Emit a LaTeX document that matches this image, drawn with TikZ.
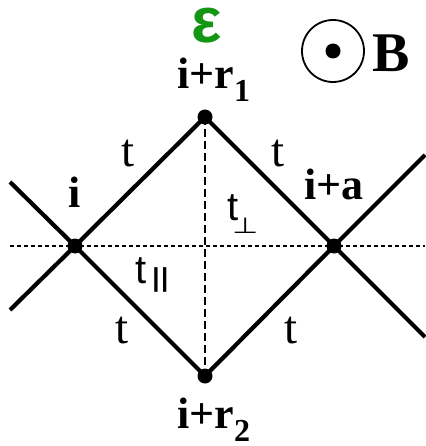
\documentclass[tikz,border=0pt]{standalone}
\usepackage{fontspec}
\setmainfont{Liberation Serif}
\newfontfamily\lsans{Liberation Sans}
\newfontfamily\dsans{DejaVu Sans}
\definecolor{epsgreen}{RGB}{20,150,20}
\begin{document}
\begin{tikzpicture}[x=1pt,y=-1pt,
  site/.style={circle,fill=black,inner sep=0pt,minimum size=15pt},
  bond/.style={line width=4.2pt},
  axisline/.style={line width=1.5pt,dash pattern=on 4pt off 3pt},
  perpline/.style={line width=2.2pt,dash pattern=on 8pt off 4pt},
  sitelbl/.style={font=\fontsize{44}{44}\selectfont\bfseries,inner sep=0pt},
  hop/.style={font=\fontsize{47}{47}\selectfont,anchor=base,inner sep=0pt},
  hopsf/.style={font=\fontsize{40}{40}\selectfont\lsans,anchor=base west,inner sep=0pt}]
\useasboundingbox (0,0) rectangle (425,446);
% sites
\node[site] (i)  at (75,246)  {};
\node[site] (r1) at (205,117) {};
\node[site] (a)  at (334,246) {};
\node[site] (r2) at (205,376) {};
% free ends
\coordinate (ul) at (10,182);
\coordinate (ll) at (10,310);
\coordinate (ur) at (425,155);
\coordinate (lr) at (425,337);
\coordinate (hl) at (10,246);
\coordinate (hr) at (425,246);
% guide lines
\draw[axisline] (hl) -- (hr);
\draw[perpline] (r1.center) -- (r2.center);
% bonds
\draw[bond] (ul) -- (i.center) -- (r2.center) -- (a.center) -- (ur);
\draw[bond] (ll) -- (i.center) -- (r1.center) -- (a.center) -- (lr);
% site labels
\node[sitelbl,anchor=base]      (li)  at (75,207)  {i};
\node[sitelbl,anchor=base west] (lr1) at (177,89)  {i+r\raisebox{-13pt}{\fontsize{32}{32}\selectfont 1}};
\node[sitelbl,anchor=base west] (la)  at (304,200) {i+a};
\node[sitelbl,anchor=base west] (lr2) at (177,428) {i+r\raisebox{-13pt}{\fontsize{32}{32}\selectfont 2}};
% hopping labels
\node[hop] (t1) at (128,167) {t};
\node[hop] (t2) at (278,167) {t};
\node[hop] (t3) at (122,343) {t};
\node[hop] (t4) at (291,343) {t};
\node[hopsf] (tperp) at (227,220) {t\hspace{-6pt}\raisebox{-13pt}{\fontsize{22}{22}\selectfont\scalebox{1.35}[1]{\dsans ⊥}}};
\node[hopsf] (tpar) at (135,283) {t\hspace{6pt}\raisebox{-3.5pt}{\fontsize{26}{26}\selectfont\bfseries|\kern1.5pt|}};
% field
\node[font=\fontsize{64}{64}\selectfont\lsans\bfseries,text=epsgreen,anchor=base,inner sep=0pt] (eps) at (207,43) {ε};
\node[circle,draw,line width=1.8pt,minimum size=62pt,inner sep=0pt] (bcirc) at (333,51) {};
\node[circle,fill=black,minimum size=15pt,inner sep=0pt] (bdot) at (bcirc.center) {};
\node[font=\fontsize{56}{56}\selectfont\bfseries,anchor=base west,inner sep=0pt] (bl) at (372,72) {B};
\end{tikzpicture}
\end{document}
